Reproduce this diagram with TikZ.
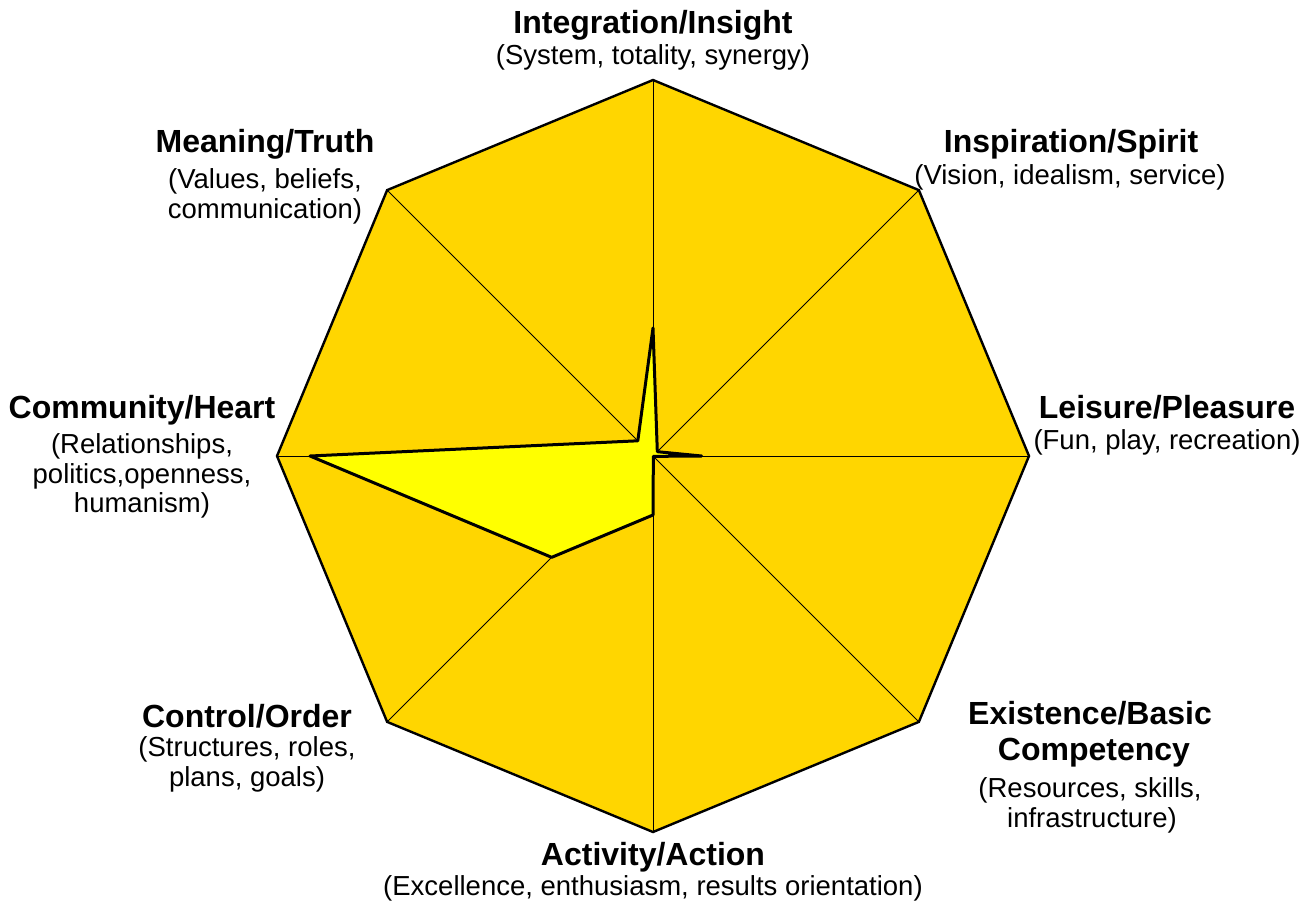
\documentclass[tikz,border=0pt]{standalone}
\usepackage{fontspec}
\setmainfont{Liberation Sans}
\usetikzlibrary{calc}
\definecolor{outerfill}{RGB}{255,214,0}
\definecolor{innerfill}{RGB}{255,255,0}
\tikzset{
  ttl/.style={font=\fontsize{32}{36}\selectfont\bfseries, anchor=base, inner sep=0pt},
  sub/.style={font=\fontsize{27.5}{31}\selectfont, anchor=base, inner sep=0pt},
  spoke/.style={line width=1pt, black},
  rim/.style={line width=2.4pt, black, line join=miter},
  score/.style={line width=3pt, black, fill=innerfill, line join=round}
}
\begin{document}
\begin{tikzpicture}[x=1pt,y=-1pt]
\useasboundingbox (0,0) rectangle (1309,905);
\coordinate (c) at (653,456);
% octagon vertices
\foreach \i/\a in {1/-90,2/-45,3/0,4/45,5/90,6/135,7/180,8/-135}
  \coordinate (v\i) at ($(c)+(\a:376)$);
% score points
\coordinate (p1) at ($(c)+(-90:128)$);
\coordinate (p2) at ($(c)+(-45:6.1)$);
\coordinate (p3) at ($(c)+(0:48.7)$);
\coordinate (p4) at ($(c)+(45:0.5)$);
\coordinate (p5) at ($(c)+(90:59)$);
\coordinate (p6) at ($(c)+(135:143.3)$);
\coordinate (p7) at ($(c)+(180:343)$);
\coordinate (p8) at ($(c)+(-135:21.5)$);
\fill[outerfill] (v1)--(v2)--(v3)--(v4)--(v5)--(v6)--(v7)--(v8)--cycle;
\foreach \i in {1,...,8} \draw[spoke] (c) -- (v\i);
\draw[score] (p1)--(p2)--(p3)--(p4)--(p5)--(p6)--(p7)--(p8)--cycle;
\draw[rim] (v1)--(v2)--(v3)--(v4)--(v5)--(v6)--(v7)--(v8)--cycle;
% labels
\node[ttl] (t1) at (653,33) {Integration/Insight};
\node[sub] (s1) at (653,64) {(System, totality, synergy)};
\node[ttl] (t2) at (1071,152) {Inspiration/Spirit};
\node[sub] (s2) at (1070,184) {(Vision, idealism, service)};
\node[ttl] (t3) at (1167,418) {Leisure/Pleasure};
\node[sub] (s3) at (1167,449) {(Fun, play, recreation)};
\node[ttl] (t4a) at (1090,724) {Existence/Basic};
\node[ttl] (t4b) at (1094,760) {Competency};
\node[sub] (s4a) at (1090,797) {(Resources, skills,};
\node[sub] (s4b) at (1092,827) {infrastructure)};
\node[ttl] (t5) at (653,865) {Activity/Action};
\node[sub] (s5) at (653,895) {(Excellence, enthusiasm, results orientation)};
\node[ttl] (t6) at (247,727) {Control/Order};
\node[sub] (s6a) at (247,756) {(Structures, roles,};
\node[sub] (s6b) at (247,786) {plans, goals)};
\node[ttl] (t7) at (142,418) {Community/Heart};
\node[sub] (s7a) at (142,453) {(Relationships,};
\node[sub] (s7b) at (142,483) {politics,openness,};
\node[sub] (s7c) at (142,512) {humanism)};
\node[ttl] (t8) at (265,152) {Meaning/Truth};
\node[sub] (s8a) at (265,188) {(Values, beliefs,};
\node[sub] (s8b) at (265,218) {communication)};
\end{tikzpicture}
\end{document}
